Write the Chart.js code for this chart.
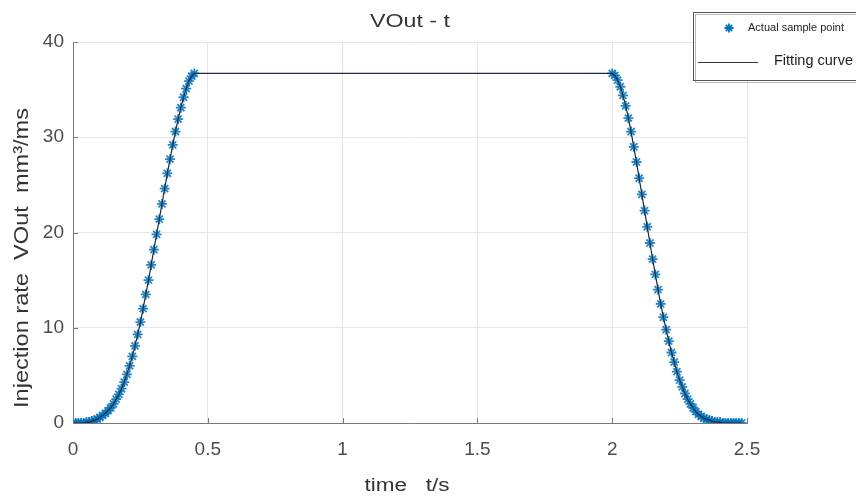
<!DOCTYPE html>
<html>
<head>
<meta charset="utf-8">
<script src="https://cdn.jsdelivr.net/npm/chart.js@4.4.1/dist/chart.umd.min.js"></script>
<style>
  html, body { margin: 0; padding: 0; background: #fff; }
</style>
</head>
<body>
<canvas id="chart" width="856" height="499"></canvas>
<script>
// sample times (s) and injection rate (mm³/ms)
const riseTime = [0.00, 0.01, 0.02, 0.03, 0.04, 0.05, 0.06, 0.07, 0.08, 0.09,
  0.10, 0.11, 0.12, 0.13, 0.14, 0.15, 0.16, 0.17, 0.18, 0.19,
  0.20, 0.21, 0.22, 0.23, 0.24, 0.25, 0.26, 0.27, 0.28, 0.29,
  0.30, 0.31, 0.32, 0.33, 0.34, 0.35, 0.36, 0.37, 0.38, 0.39,
  0.40, 0.41, 0.42, 0.43, 0.44, 0.45];
const riseRate = [0.0, 0.0, 0.0, 0.0, 0.0, 0.1, 0.1, 0.2, 0.3, 0.4,
  0.6, 0.8, 1.0, 1.3, 1.6, 2.0, 2.5, 3.0, 3.6, 4.3,
  5.1, 6.0, 7.0, 8.1, 9.3, 10.6, 12.0, 13.5, 15.0, 16.6,
  18.2, 19.8, 21.4, 23.0, 24.6, 26.2, 27.7, 29.2, 30.6, 31.9,
  33.1, 34.2, 35.1, 35.9, 36.4, 36.7];
const fallTime = [2.00, 2.01, 2.02, 2.03, 2.04, 2.05, 2.06, 2.07, 2.08, 2.09,
  2.10, 2.11, 2.12, 2.13, 2.14, 2.15, 2.16, 2.17, 2.18, 2.19,
  2.20, 2.21, 2.22, 2.23, 2.24, 2.25, 2.26, 2.27, 2.28, 2.29,
  2.30, 2.31, 2.32, 2.33, 2.34, 2.35, 2.36, 2.37, 2.38, 2.39,
  2.40, 2.41, 2.42, 2.43, 2.44, 2.45, 2.46, 2.47, 2.48];
const fallRate = [36.7, 36.5, 36.0, 35.3, 34.4, 33.3, 32.0, 30.6, 29.0, 27.4,
  25.7, 24.0, 22.3, 20.6, 18.9, 17.2, 15.6, 14.0, 12.5, 11.1,
  9.8, 8.6, 7.4, 6.4, 5.4, 4.5, 3.8, 3.1, 2.5, 2.0,
  1.6, 1.2, 0.9, 0.7, 0.5, 0.4, 0.3, 0.2, 0.1, 0.1,
  0.1, 0.0, 0.0, 0.0, 0.0, 0.0, 0.0, 0.0, 0.0];
const xTicks = [0, 0.5, 1, 1.5, 2, 2.5];
const yTicks = [0, 10, 20, 30, 40];

const BLUE = "rgb(0, 114, 189)";
const FONT = "'Liberation Sans', Arial, sans-serif";

const samplePoints = [];
riseTime.forEach((t, i) => samplePoints.push({ x: t, y: riseRate[i] }));
fallTime.forEach((t, i) => samplePoints.push({ x: t, y: fallRate[i] }));
const curvePoints = samplePoints.slice();

// draw text stretched to a measured length
function fitText(ctx, text, x, y, len, font, align, rot) {
  ctx.save();
  ctx.font = font;
  const w = ctx.measureText(text).width;
  ctx.translate(x, y);
  if (rot) ctx.rotate(rot);
  ctx.scale(len / w, 1);
  ctx.textAlign = align || "center";
  ctx.textBaseline = "middle";
  ctx.fillText(text, 0, 0);
  ctx.restore();
}

const extras = {
  id: "extras",
  afterDraw(chart) {
    const { ctx, chartArea: a, scales } = chart;
    ctx.save();
    // inward tick marks
    ctx.strokeStyle = "#7a7a7a";
    ctx.lineWidth = 1;
    xTicks.forEach((v) => {
      const px = Math.round(scales.x.getPixelForValue(v)) + 0.5;
      ctx.beginPath();
      ctx.moveTo(px, a.bottom);
      ctx.lineTo(px, a.bottom - 5);
      ctx.stroke();
    });
    yTicks.forEach((v) => {
      const py = Math.round(scales.y.getPixelForValue(v)) + 0.5;
      ctx.beginPath();
      ctx.moveTo(a.left, py);
      ctx.lineTo(a.left + 5, py);
      ctx.stroke();
    });

    // title and axis labels
    ctx.fillStyle = "#333";
    fitText(ctx, "VOut - t", (a.left + a.right) / 2, 22, 80, "18px " + FONT);
    fitText(ctx, "time   t/s", 407, 486, 85, "18px " + FONT);
    fitText(ctx, "Injection rate  VOut  mm³/ms", 22, 258, 300, "20px " + FONT, "center", -Math.PI / 2);

    // legend box
    ctx.fillStyle = "#fff";
    ctx.fillRect(693, 12, 170, 69);
    ctx.strokeStyle = "#bbb";
    ctx.strokeRect(695.5, 14.5, 170, 68);
    ctx.strokeStyle = "#555";
    ctx.strokeRect(693.5, 12.5, 170, 68);
    ctx.strokeStyle = BLUE;
    ctx.lineWidth = 1.8;
    Chart.helpers.drawPoint(ctx, { pointStyle: "star", radius: 4.5, borderWidth: 1.8 }, 729, 28);
    ctx.strokeStyle = "#333";
    ctx.lineWidth = 1.2;
    ctx.beginPath();
    ctx.moveTo(698, 62.5);
    ctx.lineTo(758, 62.5);
    ctx.stroke();
    ctx.fillStyle = "#222";
    fitText(ctx, "Actual sample point", 748, 28, 96, "11px " + FONT, "left");
    fitText(ctx, "Fitting curve", 774, 61, 79, "15px " + FONT, "left");
    ctx.restore();
  },
};

new Chart(document.getElementById("chart"), {
  type: "scatter",
  data: {
    datasets: [
      {
        label: "Fitting curve",
        data: curvePoints,
        showLine: true,
        borderColor: "#1c2a3a",
        borderWidth: 1.2,
        pointRadius: 0,
        tension: 0,
        order: 0,
      },
      {
        label: "Actual sample point",
        data: samplePoints,
        pointStyle: "star",
        pointRadius: 5,
        borderColor: "rgba(0, 114, 189, 0.85)",
        backgroundColor: BLUE,
        pointBorderWidth: 1.8,
        order: 1,
      },
    ],
  },
  options: {
    responsive: false,
    animation: false,
    layout: { padding: { top: 42, right: 109, left: 0, bottom: 0 } },
    plugins: {
      legend: { display: false },
      title: { display: false },
      tooltip: { enabled: false },
    },
    scales: {
      x: {
        type: "linear",
        min: 0,
        max: 2.5,
        afterFit: (s) => { s.height = 76; },
        afterBuildTicks: (s) => { s.ticks = xTicks.map((v) => ({ value: v })); },
        grid: { color: "#e6e6e6", drawTicks: false },
        border: { color: "#7a7a7a", width: 1 },
        ticks: {
          color: "#4d4d4d",
          padding: 15,
          font: { family: FONT, size: 19 },
          callback: (v) => String(v),
        },
      },
      y: {
        min: 0,
        max: 40,
        afterFit: (s) => { s.width = 73; },
        afterBuildTicks: (s) => { s.ticks = yTicks.map((v) => ({ value: v })); },
        grid: { color: "#e6e6e6", drawTicks: false },
        border: { color: "#7a7a7a", width: 1 },
        ticks: {
          color: "#4d4d4d",
          padding: 9,
          font: { family: FONT, size: 19 },
          callback: (v) => String(v),
        },
      },
    },
  },
  plugins: [extras],
});
</script>
</body>
</html>
